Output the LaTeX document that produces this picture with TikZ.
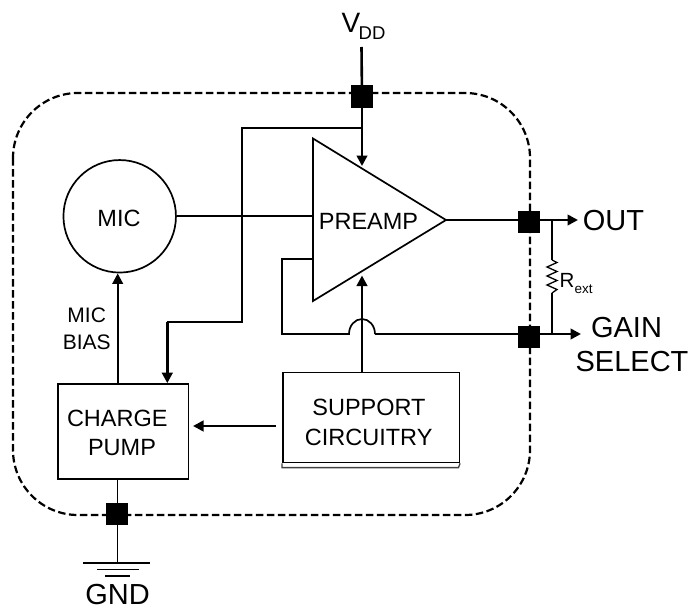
\documentclass[tikz,border=0pt]{standalone}
\usepackage{fontspec}
\setmainfont{Liberation Sans}
\usetikzlibrary{arrows.meta}
\tikzset{
 thinw/.style={draw=black,line width=1.7pt},
 thickw/.style={draw=black,line width=2.6pt},
 tip/.style={-{Triangle[length=10.5pt,width=10.5pt]}},
 pad/.style={fill=black,draw=none,minimum size=22pt,inner sep=0pt,outer sep=0pt,shape=rectangle},
 blockbox/.style={draw=black,line width=1.6pt,fill=white,inner sep=0pt},
 lab/.style={inner sep=0pt,anchor=base,font=\fontsize{23.5}{27}\selectfont},
 biglab/.style={inner sep=0pt,anchor=base,font=\fontsize{29}{34}\selectfont},
 biaslab/.style={inner sep=0pt,anchor=base,font=\fontsize{21}{25}\selectfont},
}
\begin{document}
\begin{tikzpicture}[x=1pt,y=-1pt]
\useasboundingbox (0,0) rectangle (691,610);
% boundary
\draw[line width=2.2pt,dash pattern=on 7.5pt off 3.5pt,rounded corners=65pt] (13,93) rectangle (530,515);
% coordinates
\coordinate (vddtop) at (361.5,47);
\coordinate (tap) at (362,128);
\coordinate (ampv) at (362,166);
\coordinate (t1) at (313,138.5);
\coordinate (t2) at (313,301);
\coordinate (t3) at (446,220);
\coordinate (tin) at (313,216);
\coordinate (outend) at (578,220);
\coordinate (gainend) at (581,334);
\coordinate (j1) at (552,220);
\coordinate (j2) at (552,334);
\coordinate (r1) at (552,260);
\coordinate (r2) at (552,293);
\coordinate (fb1) at (313,259);
\coordinate (fb2) at (282,259);
\coordinate (fb3) at (282,334);
\coordinate (arcl) at (349,334);
\coordinate (arcr) at (375,334);
\coordinate (g1) at (117.5,563);
\coordinate (w1) at (242,128);
\coordinate (w2) at (242,322);
\coordinate (pu) at (167.3,322);
\coordinate (sup) at (362,371.5);
\coordinate (supt) at (362,275.5);
\coordinate (supleft) at (275.5,426);
\coordinate (pumpr) at (193,426);
% nodes
\node[pad] (vddpad) at (362,96.5) {};
\node[pad] (outpad) at (529,222) {};
\node[pad] (gainpad) at (529,337) {};
\node[pad] (gndpad) at (117,513.7) {};
\node[draw=black,line width=1.7pt,circle,fill=white,minimum size=112.5pt,inner sep=0pt] (mic) at (119.7,216.3) {};
\node[blockbox,minimum width=130.6pt,minimum height=95pt] (pump) at (123,431.5) {};
\node[blockbox,minimum width=176.5pt,minimum height=90pt,anchor=north west] (support) at (282,371.7) {};
% support bottom double line
\draw[line width=1.3pt,draw=black!75] (support.south west) -- ++(0,4.3) -- ++(176.5,0) -- (support.south east);
% wires
\draw[thickw] (vddtop) -- (vddpad);
\draw[thickw,tip] (vddpad) -- (ampv);
\draw[thinw,line join=miter] (tap) -- (w1) -- (w2) -- (pu);
\draw[thickw,tip] (pu) -- (pu |- pump.north);
\draw[line width=1.7pt,line join=miter] (t1) -- (t2) -- (t3) -- cycle;
\draw[thinw] (mic.east |- tin) -- (tin);
\draw[thickw,tip] (t3) -- (outend);
\draw[thinw] (j1) -- (r1);
\draw[line width=1.3pt,line join=miter] (r1) -- (557,262.5) -- (547,267) -- (557,271.5) -- (547,276) -- (557,280.5) -- (547,285) -- (557,289.5) -- (r2);
\draw[thinw] (r2) -- (j2);
\draw[thinw,line join=miter] (fb1) -- (fb2) -- (fb3) -- (arcl) arc[start angle=180,end angle=0,x radius=13pt,y radius=15pt];
\draw[thickw,tip] (arcr) -- (gainend);
\draw[thickw,tip] (sup) -- (supt);
\draw[thickw,tip] (supleft) -- (pumpr);
\draw[line width=2.2pt,tip] (pump.north -| mic.south) ++(-2,0) coordinate (mb) -- (mb |- mic.south);
\draw[thinw] (g1 |- pump.south) -- (g1);
\draw[line width=1.6pt] (83.3,563) -- (150,563) (97,569.4) -- (139,569.4) (105,576) -- (130,576);
% labels
\node[lab] (micl) at (119,226) {MIC};
\node[lab] (amp) at (368.5,229) {PREAMP};
\node[lab] (l1) at (117.3,426) {CHARGE};
\node[lab] (l2) at (122,455) {PUMP};
\node[lab] (l3) at (369,415) {SUPPORT};
\node[lab] (l4) at (368.7,445) {CIRCUITRY};
\node[inner sep=0pt,anchor=base west,font=\fontsize{28}{30}\selectfont] (vdd) at (341.5,33) {V};
\node[inner sep=0pt,anchor=base west,font=\fontsize{18.5}{20}\selectfont] (dd) at (358.5,40) {DD};
\node[biglab] (out) at (613.5,230.5) {OUT};
\node[biglab] (gain) at (626.5,337) {GAIN};
\node[biglab] (sel) at (632,371) {SELECT};
\node[inner sep=0pt,anchor=base west,font=\fontsize{20.5}{22}\selectfont] (rext) at (559.5,287.3) {R};
\node[inner sep=0pt,anchor=base west,font=\fontsize{13.5}{15}\selectfont] (rsub) at (574.5,293) {ext};
\node[biaslab] (bias1) at (86.7,322) {MIC};
\node[biaslab] (bias2) at (86.8,349) {BIAS};
\node[biglab] (gnd) at (117.5,604) {GND};
\end{tikzpicture}
\end{document}
